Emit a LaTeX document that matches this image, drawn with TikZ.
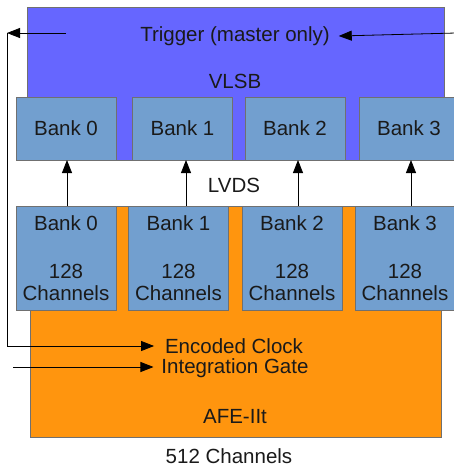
\documentclass[tikz,border=0pt]{standalone}
\usepackage{fontspec}
\setmainfont{Liberation Sans}
\usetikzlibrary{arrows.meta}
\definecolor{vlsbc}{HTML}{6666FF}
\definecolor{bankc}{HTML}{729FCF}
\definecolor{afec}{HTML}{FF950E}
\definecolor{edgec}{HTML}{707070}
\definecolor{txtc}{HTML}{1A1A1A}
\begin{document}
\begin{tikzpicture}[x=1pt,y=-1pt,
  box/.style={draw=edgec, line width=0.7pt, inner sep=0pt, outer sep=0pt},
  ubank/.style={box, fill=bankc, minimum width=100pt, minimum height=63pt},
  lbank/.style={box, fill=bankc, minimum width=100pt, minimum height=104pt, align=center},
  lbl/.style={inner sep=0pt, outer sep=0pt, text=txtc, font=\fontsize{20.5}{22}\selectfont},
  arr/.style={draw=black, line width=0.8pt, -{Triangle[length=13pt,width=10pt]}}
]
\useasboundingbox (0,0) rectangle (454,467);
\fill[white] (0,0) rectangle (454,467);

% main boxes
\node[box, fill=vlsbc, anchor=north west, minimum width=417pt, minimum height=153pt] (vlsb) at (27,7) {};
\node[box, fill=afec, anchor=north west, minimum width=411pt, minimum height=231pt] (afe) at (30,206) {};

% upper banks (VLSB)
\node[ubank, lbl] (ub0) at (66,128.5) {Bank 0};
\node[ubank, lbl] (ub1) at (182.5,128.5) {Bank 1};
\node[ubank, lbl] (ub2) at (295,128.5) {Bank 2};
\node[ubank, lbl] (ub3) at (409,128.5) {Bank 3};

% lower banks (AFE)
\node[lbank, lbl] (lb0) at (66,258) {Bank 0\\[4pt]\\128\\Channels};
\node[lbank, lbl] (lb1) at (178.5,258) {Bank 1\\[4pt]\\128\\Channels};
\node[lbank, lbl] (lb2) at (292,258) {Bank 2\\[4pt]\\128\\Channels};
\node[lbank, lbl] (lb3) at (405,258) {Bank 3\\[4pt]\\128\\Channels};

% texts
\node[lbl] (trig) at (235,36) {Trigger (master only)};
\node[lbl] (vlsbl) at (235,81) {VLSB};
\node[lbl] (lvds) at (234,185) {LVDS};
\node[lbl] (clk) at (234,346) {Encoded Clock};
\node[lbl] (gate) at (235,368) {Integration Gate};
\node[lbl] (afel) at (235,417) {AFE-IIt};
\node[lbl] (chan) at (229,456) {512 Channels};

% LVDS arrows
\draw[arr] (lb0.north -| 67,0) -- (ub0.south -| 67,0);
\draw[arr] (lb1.north -| 186,0) -- (ub1.south -| 186,0);
\draw[arr] (lb2.north -| 298,0) -- (ub2.south -| 298,0);
\draw[arr] (lb3.north -| 411,0) -- (ub3.south -| 411,0);

% trigger / clock / gate lines
\coordinate (trigout) at (66,33);
\coordinate (corner) at (7,33);
\coordinate (trigin) at (456,33);
\coordinate (gatein) at (13,367);
\draw[arr] (trigout) -- (corner);
\draw[arr] (corner) |- ([xshift=-11pt]clk.west);
\draw[arr] (trigin) -- ([xshift=9pt]trig.east);
\draw[arr] (gatein) -- ([xshift=-8pt]gate.west |- gatein);
\end{tikzpicture}
\end{document}
